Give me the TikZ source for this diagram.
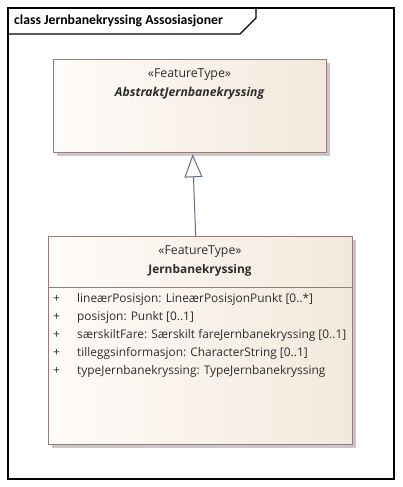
\documentclass[tikz,border=0pt]{standalone}
\usepackage{fontspec}
\setmainfont{Open Sans}
\newfontfamily\titlefont{Carlito}
\usetikzlibrary{arrows.meta,calc,shadows}
\definecolor{boxL}{RGB}{254,252,249}
\definecolor{boxR}{RGB}{244,232,220}
\definecolor{boxB}{RGB}{150,125,125}
\definecolor{shad}{RGB}{200,200,200}
\definecolor{arr}{RGB}{100,108,140}
\definecolor{txt}{RGB}{45,45,45}
\begin{document}
\begin{tikzpicture}[x=1pt,y=-1pt,
  classbox/.style={draw=boxB, line width=1.3pt, left color=boxL, right color=boxR,
    rectangle, inner sep=0pt, anchor=north west,
    drop shadow={fill=shad, opacity=1, shadow xshift=3pt, shadow yshift=-3pt}},
  stereo/.style={font=\fontsize{12.3}{14}\selectfont, text=txt, inner sep=0pt},
  cname/.style={font=\fontsize{11.9}{14}\selectfont\bfseries, text=txt, inner sep=0pt},
  attr/.style={font=\fontsize{11.9}{14}\selectfont, text=txt, inner sep=0pt, anchor=west},
  frameline/.style={line width=1.3pt, black}
]
\useasboundingbox (0,0) rectangle (403,487);
% frame
\draw[frameline] (8,8) rectangle (394,479);
\draw[frameline] (8,34) -- (240,34) -- (256,18) -- (256,8);
\node[font=\titlefont\bfseries\fontsize{13.7}{15}\selectfont, anchor=west, inner sep=0pt] (title) at (14,21) {class Jernbanekryssing Assosiasjoner};

% abstract class
\node[classbox, minimum width=273pt, minimum height=93pt] (abs) at (53,59) {};
\node[stereo] (absst) at (189.5,75) {«FeatureType»};
\node[cname, font=\fontsize{12.2}{14}\selectfont\bfseries\itshape] (absname) at (189.5,93) {AbstraktJernbanekryssing};

% concrete class
\node[classbox, minimum width=304pt, minimum height=208pt] (jb) at (48,236) {};
\draw[boxB, line width=1pt] ($(jb.north west)+(0,51)$) -- ($(jb.north east)+(0,51)$);
\node[stereo] (jbst) at (200,252) {«FeatureType»};
\node[cname] (jbname) at (200,270) {Jernbanekryssing};

\foreach \i/\t in {0/{lineærPosisjon: LineærPosisjonPunkt [0..*]},
                   1/{posisjon: Punkt [0..1]},
                   2/{særskiltFare: Særskilt fareJernbanekryssing [0..1]},
                   3/{tilleggsinformasjon: CharacterString [0..1]},
                   4/{typeJernbanekryssing: TypeJernbanekryssing}} {
  \node[attr] (plus\i) at (53,299+18*\i) {+};
  \node[attr] (attr\i) at (77,299+18*\i) {\t};
}

% generalization
\draw[arr, line width=1pt, -{Triangle[open, length=23pt, width=18pt, fill=boxL]}]
  ($(jb.north)+(-5,0)$) -- ($(abs.south)+(2.5,1)$);
\end{tikzpicture}
\end{document}
